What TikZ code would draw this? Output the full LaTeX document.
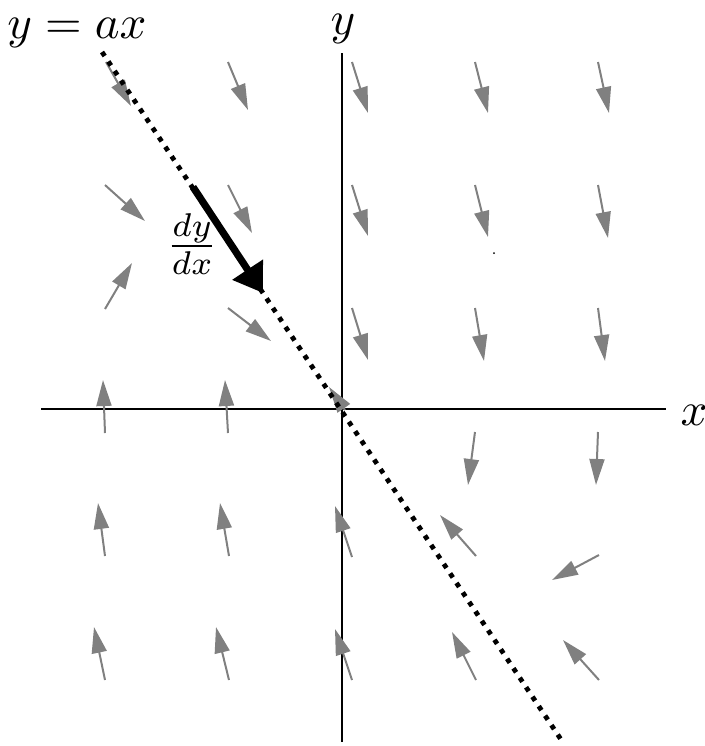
\documentclass[tikz,border=0pt]{standalone}
\usetikzlibrary{arrows.meta}
\begin{document}
\begin{tikzpicture}[x=0.5pt,y=-0.5pt,
  axisline/.style={line width=1pt, black},
  fieldarrow/.style={draw=gray, line width=1pt, -{Triangle[length=13pt,width=7.5pt]}},
  slopeline/.style={line width=2.4pt, black, dash pattern=on 2.4pt off 3.3pt},
  slopearrow/.style={line width=3.6pt, black, -{Triangle[length=14pt,width=17.5pt]}},
  biglabel/.style={inner sep=0pt, scale=2.35}
]
\useasboundingbox (0,0) rectangle (705,746);
% axes
\coordinate (xl) at (41,409);
\coordinate (xr) at (666,409);
\coordinate (yt) at (342,53);
\coordinate (yb) at (342,742);
\draw[axisline] (xl) -- (xr);
\draw[axisline] (yt) -- (yb);
\node[biglabel, anchor=base] (xlab) at (694,425) {$x$};
\node[biglabel, anchor=base] (ylab) at (343,34) {$y$};
\node[biglabel, anchor=base] (eqlab) at (77,38) {$y = ax$};
% slope field
\foreach \ax/\ay/\bx/\by in {
  106/62/131/106, 228/62/248/110, 352/62/368/113, 475/62/488/113, 598/62/609/113,
  105/185/145/221, 228/185/252/233, 352/185/368/236, 475/185/488/237, 598/185/608/238,
  105/309/132/263,
  228/308/271/341, 352/308/368/360, 475/308/484/361, 598/308/605/361,
  105/433/103/380, 228/433/225/380, 345/410/329/387,
  475/432/468/485, 598/432/596/485,
  105/556/98/503, 229/556/220/503, 352/557/335/506, 476/556/440/515, 599/555/552/580,
  105/680/94/627, 229/680/216/627, 352/680/335/629, 476/680/452/632, 599/680/563/640}
{
  \draw[fieldarrow] (\ax,\ay) -- (\bx,\by);
}
\fill[black] (494,253) circle (1);
% line y = ax
\coordinate (ls) at (102,52);
\coordinate (le) at (562,741);
\draw[slopeline] (ls) -- (le);
% derivative arrow
\coordinate (da) at (193,187);
\coordinate (db) at (263,293);
\draw[slopearrow] (da) -- (db);
\node[biglabel, scale=1.0] (frac) at (192,244) {$\frac{dy}{dx}$};
\end{tikzpicture}
\end{document}
